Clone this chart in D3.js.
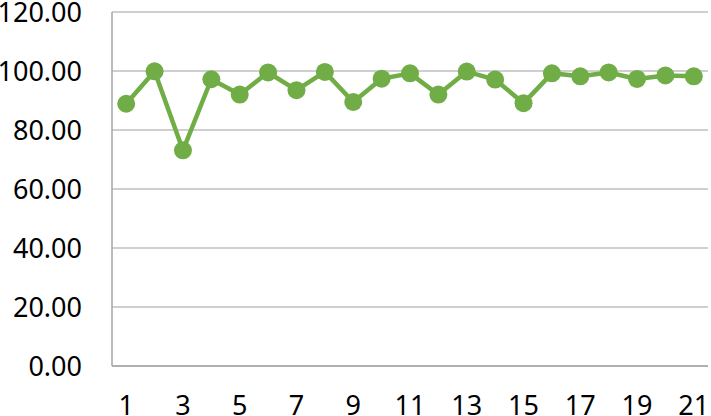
<!DOCTYPE html>
<html>
<head>
<meta charset="utf-8">
<script src="https://cdn.jsdelivr.net/npm/d3@7"></script>
<style>
  body { margin: 0; background: #fff; }
  text { font-family: "Noto Sans", sans-serif; fill: #000; }
</style>
</head>
<body>
<svg id="chart" width="711" height="416"></svg>
<script>
var categories = d3.range(1, 22).map(String)
var values = [88.9, 99.9, 73.1, 97.2, 92.0, 99.5, 93.5, 99.7, 89.5, 97.4, 99.2,
  92.0, 99.8, 97.1, 89.1, 99.2, 98.2, 99.5, 97.3, 98.5, 98.2]
var yTicks = [0, 20, 40, 60, 80, 100, 120]

var svg = d3.select("#chart")
  , margin = {top: 12, right: 3, bottom: 50, left: 112}
  , width = 711 - margin.left - margin.right
  , height = 416 - margin.top - margin.bottom
  , green = "#70ad47"

var g = svg.append("g").attr("transform", "translate(" + margin.left + "," + margin.top + ")")

var x = d3.scaleBand().domain(categories).range([0, width])
var y = d3.scaleLinear().domain([0, 120]).range([height, 0])

// gridlines
g.append("g")
  .selectAll("line")
  .data(yTicks)
  .enter().append("line")
    .attr("x1", 0).attr("x2", width)
    .attr("y1", function(d){ return y(d) }).attr("y2", function(d){ return y(d) })
    .style("stroke", "#bfbfbf").style("stroke-width", 1.5)

// y axis labels
var yAxis = d3.axisLeft(y).tickValues(yTicks).tickFormat(d3.format(".2f")).tickSize(0).tickPadding(30)
g.append("g").call(yAxis)
  .call(function(a){ a.select(".domain").remove() })
  .selectAll("text").style("font-size", "27px").attr("dy", "0.36em")

// axis lines
g.append("line").attr("x1", 0).attr("x2", 0).attr("y1", 0).attr("y2", height)
  .style("stroke", "#a6a6a6").style("stroke-width", 1.5)
g.append("line").attr("x1", 0).attr("x2", width).attr("y1", height).attr("y2", height)
  .style("stroke", "#a6a6a6").style("stroke-width", 1.5)

// x axis labels (every other)
var xAxis = d3.axisBottom(x)
  .tickValues(categories.filter(function(d, i){ return i % 2 === 0 }))
  .tickSize(0).tickPadding(30)
g.append("g").attr("transform", "translate(0," + height + ")").call(xAxis)
  .call(function(a){ a.select(".domain").remove() })
  .selectAll("text").style("font-size", "27px")

var line = d3.line()
  .x(function(d, i){ return x(categories[i]) + x.bandwidth()/2 })
  .y(function(d){ return y(d) })

g.append("path").datum(values)
  .attr("d", line)
  .style("fill", "none").style("stroke", green).style("stroke-width", 4.5)
  .style("stroke-linejoin", "round")

g.append("g").selectAll("circle")
  .data(values)
  .enter().append("circle")
    .attr("cx", function(d, i){ return x(categories[i]) + x.bandwidth()/2 })
    .attr("cy", function(d){ return y(d) })
    .attr("r", 9)
    .style("fill", green)
</script>
</body>
</html>
